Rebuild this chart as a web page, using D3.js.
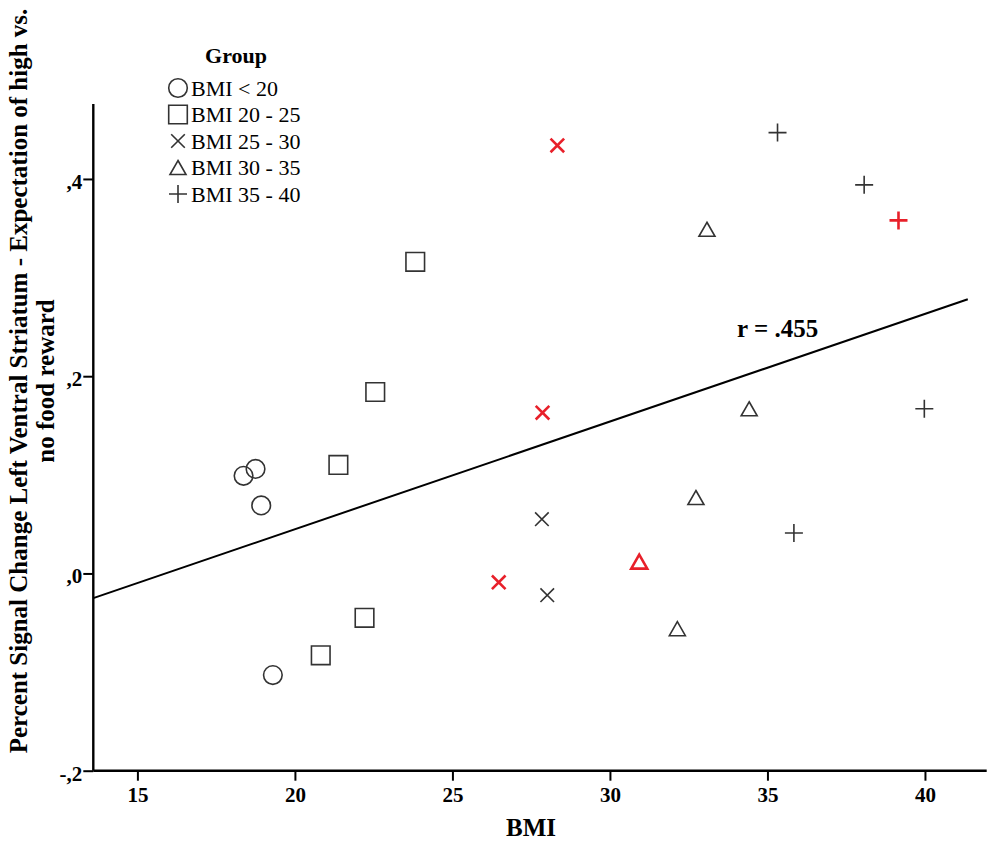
<!DOCTYPE html>
<html><head><meta charset="utf-8">
<script src="https://cdn.jsdelivr.net/npm/d3@7"></script>
<style>
html,body{margin:0;padding:0;background:#fff;}
svg{display:block;}
text{font-family:"Liberation Serif","Times New Roman",serif;}
</style></head>
<body>
<svg id="chart" width="992" height="841"></svg>
<script>
// ---- data ----
const groupNames = ["BMI < 20", "BMI 20 - 25", "BMI 25 - 30", "BMI 30 - 35", "BMI 35 - 40"];
const groupShapes = ["circle", "square", "times", "triangle", "plus"];
const bmi   = [18.37, 18.75, 18.93, 19.30,  23.82, 22.55, 21.38, 22.21, 20.82,  28.33, 27.86, 26.47, 27.84, 28.01,  33.08, 34.42, 32.73, 30.93, 32.14,  35.32, 38.07, 39.16, 39.98, 35.84];
const signal= [0.099, 0.106, 0.069, -0.103,  0.316, 0.184, 0.110, -0.045, -0.083,  0.434, 0.163, -0.009, 0.055, -0.022,  0.349, 0.167, 0.077, 0.012, -0.056,  0.447, 0.394, 0.358, 0.167, 0.041];
const group = [0,0,0,0, 1,1,1,1,1, 2,2,2,2,2, 3,3,3,3,3, 4,4,4,4,4];
const highlighted = [0,0,0,0, 0,0,0,0,0, 1,1,1,0,0, 0,0,0,1,0, 0,0,1,0,0];
const xTicks = [15, 20, 25, 30, 35, 40];
const yTicks = [-0.2, 0, 0.2, 0.4];
const yTickLabels = ["-,2", ",0", ",2", ",4"];
const fitX = [13.6, 41.36];
const fitY = [-0.025, 0.278];
const rLabel = "r = .455";
const xTitle = "BMI";
const yTitleLines = ["Percent Signal Change Left Ventral Striatum - Expectation of high vs.", "no food reward"];
const legendTitle = "Group";

// ---- layout ----
const svg = d3.select("#chart");
const x = d3.scaleLinear().domain([13.6, 41.96]).range([93.3, 986.7]);
const y = d3.scaleLinear().domain([-0.2, 0.476]).range([770.7, 104]);
const dark = "#333", red = "#e8202a";

function shapePath(shape, s) {
  const p = d3.path();
  if (shape === "circle") { p.moveTo(9.3 * s, 0); p.arc(0, 0, 9.3 * s, 0, 2 * Math.PI); }
  else if (shape === "square") { const h = 9.3 * s; p.rect(-h, -h, 2 * h, 2 * h); }
  else if (shape === "times") { const h = 6.8 * s; p.moveTo(-h, -h); p.lineTo(h, h); p.moveTo(-h, h); p.lineTo(h, -h); }
  else if (shape === "triangle") { const w = 8 * s, h = 7 * s; p.moveTo(0, -h); p.lineTo(w, h); p.lineTo(-w, h); p.closePath(); }
  else if (shape === "plus") { const h = 9 * s; p.moveTo(-h, 0); p.lineTo(h, 0); p.moveTo(0, -h); p.lineTo(0, h); }
  return p.toString();
}

// axes
const xAxis = svg.append("g").attr("transform", `translate(0,${y(-0.2)})`)
  .call(d3.axisBottom(x).tickValues(xTicks).tickSize(10).tickPadding(6).tickFormat(d3.format("d")));
const yAxis = svg.append("g").attr("transform", `translate(${x(13.6)},0)`)
  .call(d3.axisLeft(y).tickValues(yTicks).tickSize(10).tickPadding(1).tickFormat((d, i) => yTickLabels[i]));
[xAxis, yAxis].forEach(a => {
  a.select(".domain").attr("stroke", "#000").attr("stroke-width", 2.4);
  a.selectAll(".tick line").attr("stroke", "#000").attr("stroke-width", 2);
  a.selectAll(".tick text").attr("fill", "#000").attr("font-family", "Liberation Serif, Times New Roman, serif")
    .attr("font-weight", "bold").attr("font-size", 21);
});
yAxis.selectAll(".tick text").attr("dy", "0.45em");
xAxis.selectAll(".domain").attr("d", `M${x(13.6)},0H${x(41.96)}`);
yAxis.selectAll(".domain").attr("d", `M0,${y(-0.2)}V${y(0.476)}`);

// fit line
svg.append("line")
  .attr("x1", x(fitX[0])).attr("y1", y(fitY[0]))
  .attr("x2", x(fitX[1])).attr("y2", y(fitY[1]))
  .attr("stroke", "#000").attr("stroke-width", 2);

// points
const pts = bmi.map((b, i) => ({ b, s: signal[i], g: group[i], h: highlighted[i] }));
svg.append("g").selectAll("path").data(pts).join("path")
  .attr("transform", d => `translate(${x(d.b)},${y(d.s)})`)
  .attr("d", d => shapePath(groupShapes[d.g], 1))
  .attr("fill", "none")
  .attr("stroke", d => d.h ? red : dark)
  .attr("stroke-width", d => d.h ? 2.6 : 1.6);

// r label
svg.append("text").attr("x", 737).attr("y", 337).attr("font-weight", "bold").attr("font-size", 25)
  .attr("fill", "#000").text(rLabel);

// x title
svg.append("text").attr("x", 531).attr("y", 836).attr("text-anchor", "middle")
  .attr("font-weight", "bold").attr("font-size", 25).attr("fill", "#000").text(xTitle);

// y title
const yt = svg.append("text").attr("transform", "translate(0,381) rotate(-90)")
  .attr("text-anchor", "middle").attr("font-weight", "bold").attr("font-size", 25).attr("fill", "#000");
yt.append("tspan").attr("x", 0).attr("y", 27).text(yTitleLines[0]);
yt.append("tspan").attr("x", 0).attr("y", 54).text(yTitleLines[1]);

// legend
const lg = svg.append("g");
lg.append("text").attr("x", 236).attr("y", 63).attr("text-anchor", "middle").attr("font-weight", "bold")
  .attr("font-size", 22).attr("fill", "#000").text(legendTitle);
groupNames.forEach((name, i) => {
  const cy = 88 + i * 26.5;
  lg.append("path").attr("transform", `translate(178,${cy})`).attr("d", shapePath(groupShapes[i], 1.0))
    .attr("fill", "none").attr("stroke", dark).attr("stroke-width", 1.6);
  lg.append("text").attr("x", 191).attr("y", cy + 7.5).attr("font-size", 22).attr("fill", "#000").text(name);
});
</script>
</body></html>
